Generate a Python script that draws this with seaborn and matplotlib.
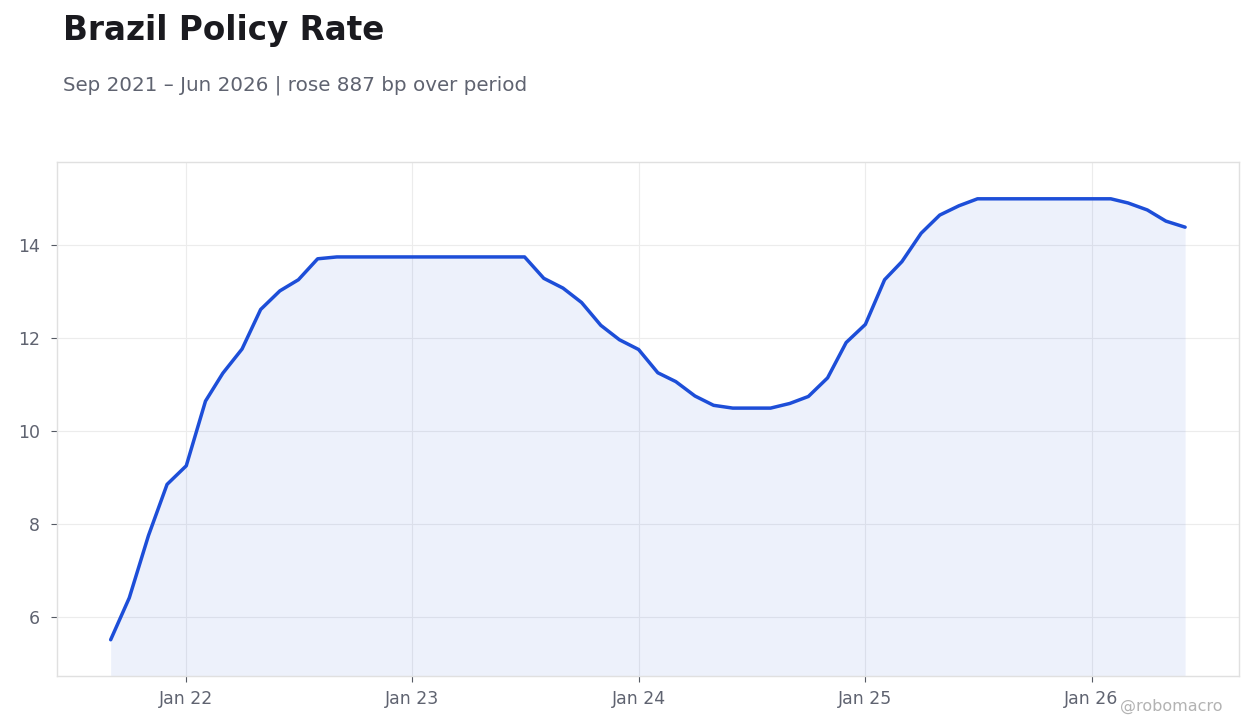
import matplotlib

matplotlib.use("Agg")

import matplotlib.dates as mdates
import matplotlib.pyplot as plt
import pandas as pd
import seaborn as sns

# monthly average policy rate (%), Sep 2021 - Jun 2026
START_MONTH = "2021-09-01"
RATES = [
    5.52, 6.42, 7.76, 8.86, 9.26, 10.65, 11.25, 11.77, 12.62, 13.02, 13.26, 13.71,
    13.75, 13.75, 13.75, 13.75, 13.75, 13.75, 13.75, 13.75, 13.75, 13.75, 13.75,
    13.29, 13.08, 12.77, 12.28, 11.97, 11.76, 11.26, 11.07, 10.76, 10.56, 10.50,
    10.50, 10.50, 10.60, 10.75, 11.15, 11.91, 12.30, 13.26, 13.65, 14.26, 14.65,
    14.85, 15.00, 15.00, 15.00, 15.00, 15.00, 15.00, 15.00, 15.00, 14.91, 14.76,
    14.52, 14.39,
]
TITLE = "Brazil Policy Rate"
SUBTITLE = "Sep 2021 \u2013 Jun 2026 | rose 887 bp over period"
WATERMARK = "@robomacro"
Y_LIMITS = (4.74, 15.79)

LINE_COLOR = "#1d4ed8"
TEXT_DARK = "#1a1a1f"
TEXT_GREY = "#5f6370"

sns.set_theme(style="whitegrid")
plt.rcParams["font.family"] = ["DejaVu Sans"]

df = pd.DataFrame({
    "date": pd.date_range(START_MONTH, periods=len(RATES), freq="MS"),
    "rate": RATES,
})

fig = plt.figure(figsize=(12.6, 7.28), dpi=100)
ax = fig.add_axes([0.0452, 0.0714, 0.938, 0.706])

sns.lineplot(data=df, x="date", y="rate", ax=ax, color=LINE_COLOR, linewidth=2.5)
ax.fill_between(df["date"], df["rate"], Y_LIMITS[0], color=LINE_COLOR, alpha=0.08, linewidth=0)

ax.set_ylim(*Y_LIMITS)
ax.margins(x=0.05)
ax.set_xlabel("")
ax.set_ylabel("")

ax.xaxis.set_major_locator(mdates.YearLocator(month=1))
ax.xaxis.set_major_formatter(mdates.DateFormatter("%b %y"))
ax.set_yticks([6, 8, 10, 12, 14])

ax.set_facecolor("white")
ax.grid(True, color="#ececec", linewidth=0.8)
for spine in ax.spines.values():
    spine.set_color("#e0e0e0")
    spine.set_linewidth(1.0)

ax.tick_params(axis="both", which="major", labelsize=12.5, labelcolor=TEXT_GREY,
               colors="#555a63", length=4, width=0.8, left=True, bottom=True)
ax.tick_params(axis="y", pad=8)
ax.tick_params(axis="x", pad=6)
for lab in ax.get_xticklabels() + ax.get_yticklabels():
    lab.set_color(TEXT_GREY)

fig.text(0.05, 0.945, TITLE, fontsize=23.5, fontweight="bold", color=TEXT_DARK, va="baseline")
fig.text(0.05, 0.876, SUBTITLE, fontsize=14.3, color=TEXT_GREY, va="baseline")
fig.text(0.97, 0.024, WATERMARK, fontsize=11.5, color="#b3b3b3", ha="right", va="baseline")

fig.savefig("out.png", dpi=100, facecolor="white")
plt.close(fig)
